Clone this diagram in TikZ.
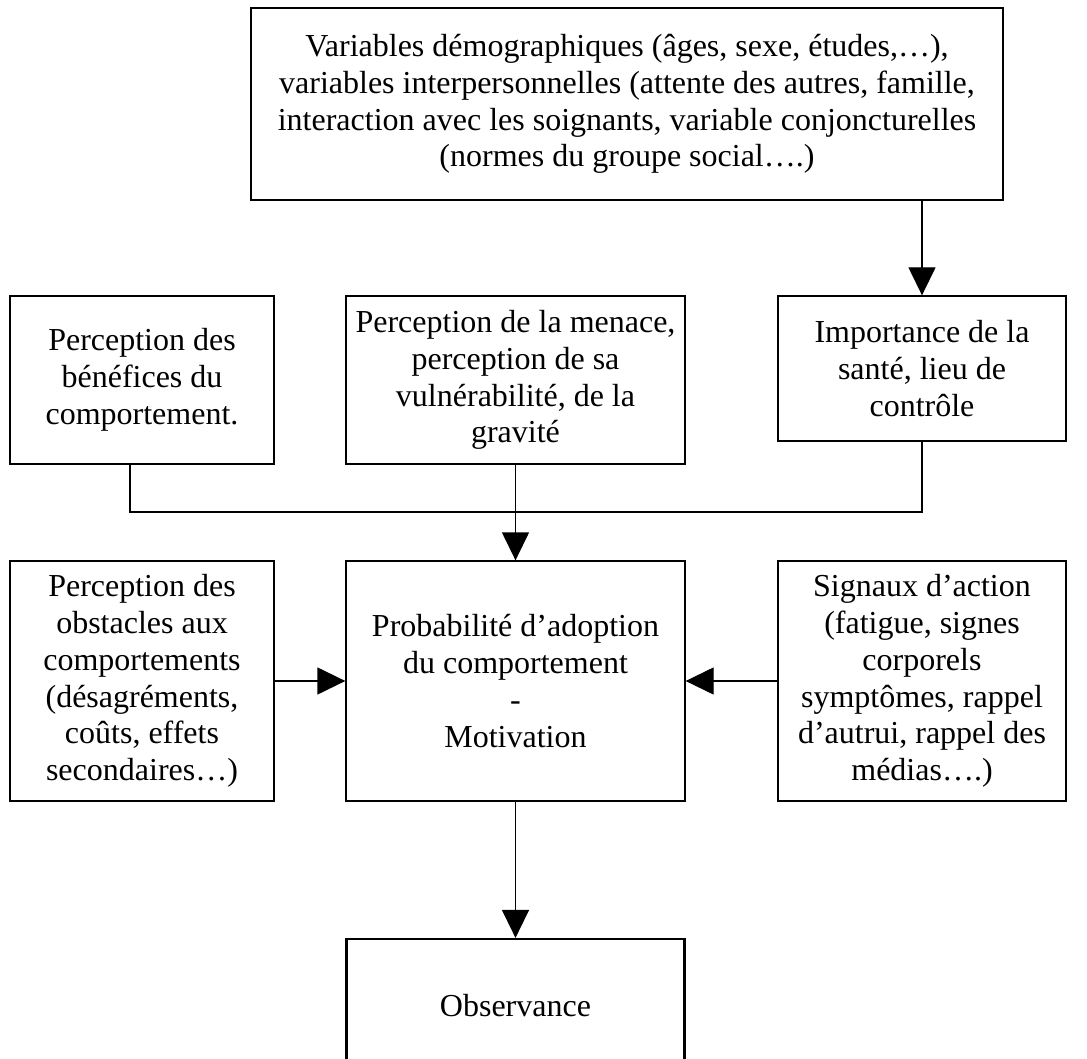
\documentclass[tikz,border=0pt]{standalone}
\usepackage{fontspec}
\setmainfont{Liberation Serif}
\usetikzlibrary{arrows.meta}
\newcommand{\boxfont}{\fontsize{32}{36.8}\selectfont}

\begin{document}
\begin{tikzpicture}[x=1pt,y=-1pt,
  line width=1.3pt,box/.style={draw,align=center,font=\boxfont,inner sep=0pt},
  >={Triangle[length=28pt,width=27pt]}]

  \useasboundingbox (0,0) rectangle (1087,1059);

  \node[box,minimum width=752pt,minimum height=192pt] (1) at (627,104)
    {Variables démographiques (âges, sexe, études,…),\\
     variables interpersonnelles (attente des autres, famille,\\
     interaction avec les soignants, variable conjoncturelles\\
     (normes du groupe social….)};
  \node[box,minimum width=264pt,minimum height=168pt] (2) at (142,380)
    {Perception des\\ bénéfices du\\ comportement.};
  \node[box,minimum width=339pt,minimum height=168pt] (3) at (515.5,380)
    {Perception de la menace,\\ perception de sa\\ vulnérabilité, de la\\ gravité};
  \node[box,minimum width=288pt,minimum height=145pt] (4) at (922,368.5)
    {Importance de la\\ santé, lieu de\\ contrôle};
  \node[box,minimum width=264pt,minimum height=240pt] (5) at (142,681)
    {Perception des\\ obstacles aux\\ comportements\\ (désagréments,\\ coûts, effets\\ secondaires…)};
  \node[box,minimum width=339pt,minimum height=240pt] (6) at (515.5,681)
    {Probabilité d’adoption\\ du comportement\\ -\\ Motivation};
  \node[box,minimum width=288pt,minimum height=240pt] (7) at (922,681)
    {Signaux d’action\\ (fatigue, signes\\ corporels\\ symptômes, rappel\\ d’autrui, rappel des\\ médias….)};
  \node[box,line width=2.2pt,minimum width=338pt,minimum height=134pt] (8) at (515.5,1006)
    {Observance};

  \coordinate (j) at (515.5,512);

  \draw ([xshift=-12pt]2.south) |- (j) -| (4.south);
  \path
   (1.south -| 4.north) edge[->] (4.north)
   (3.south) edge[->] (6.north)
   (5.east) edge[->] (6.west)
   (7.west) edge[->] (6.east)
   (6.south) edge[->] (8.north);
\end{tikzpicture}
\end{document}
